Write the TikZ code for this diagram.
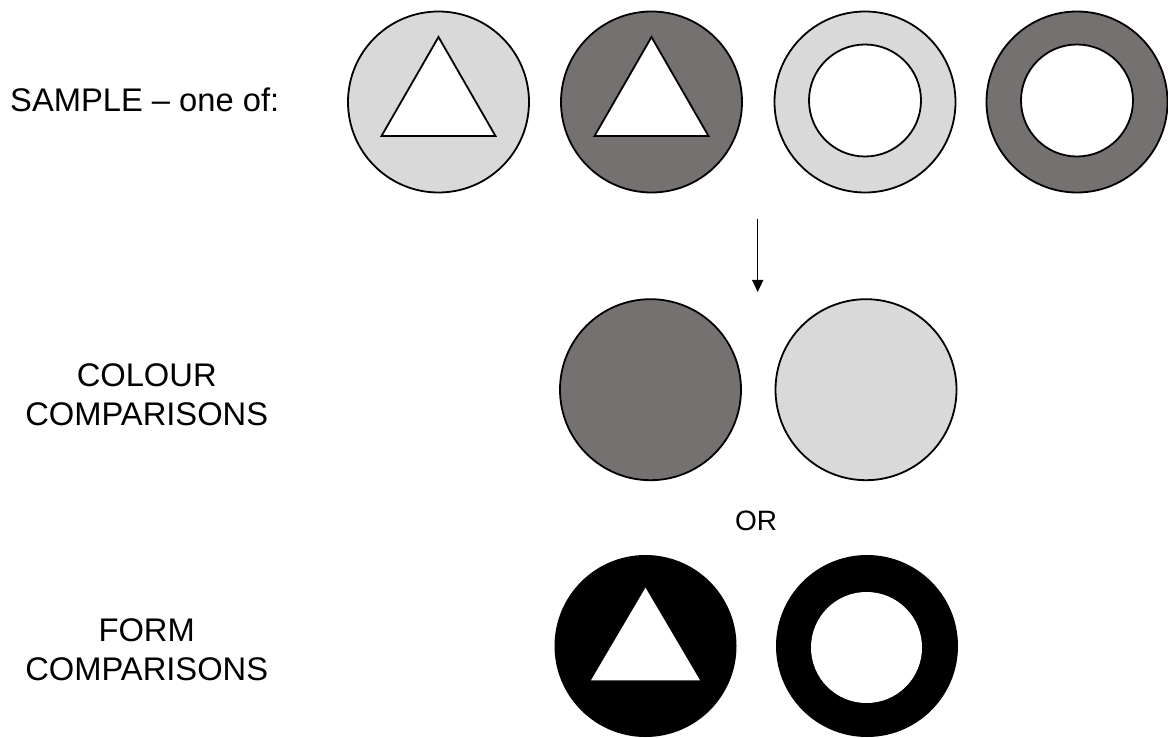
\documentclass[tikz,border=0pt]{standalone}
\usepackage{fontspec}
\setmainfont{Liberation Sans}
\usetikzlibrary{arrows.meta}
\definecolor{lightg}{HTML}{D9D9D9}
\definecolor{darkg}{HTML}{767171}
\begin{document}
\begin{tikzpicture}[x=1pt,y=-1pt,
  disc/.style={circle, draw=black, line width=1.8pt, minimum size=181pt, inner sep=0pt},
  solid disc/.style={circle, fill=black, minimum size=182pt, inner sep=0pt},
  hole/.style={circle, draw=black, fill=white, line width=1.8pt, minimum size=112pt, inner sep=0pt},
  white hole/.style={circle, fill=white, minimum size=111pt, inner sep=0pt},
  lbl/.style={anchor=base, inner sep=0pt, font=\fontsize{32.7}{39}\selectfont},
  tri/.style={draw=black, fill=white, line width=1.8pt, line join=miter},
  arrowline/.style={line width=1.5pt, -{Triangle[length=12pt,width=11pt]}},
  ]
\useasboundingbox (0,0) rectangle (1168,738);

% labels
\node[lbl, anchor=base west] (sample) at (10,112) {SAMPLE -- one of:};
\node[lbl] (colA) at (146.7,386) {COLOUR};
\node[lbl] (colB) at (146.7,425) {COMPARISONS};
\node[lbl] (formA) at (146.7,641) {FORM};
\node[lbl] (formB) at (146.7,680) {COMPARISONS};
\node[anchor=base, inner sep=0pt, font=\fontsize{28}{33}\selectfont] (or) at (756,530) {OR};

% sample row
\node[disc, fill=lightg] (s1) at (438.5,102) {};
\draw[tri] ([shift={(0,-65)}]s1.center) -- ([shift={(-57,34)}]s1.center) -- ([shift={(57,34)}]s1.center) -- cycle;
\node[disc, fill=darkg] (s2) at (651.5,102) {};
\draw[tri] ([shift={(0,-65)}]s2.center) -- ([shift={(-57,34)}]s2.center) -- ([shift={(57,34)}]s2.center) -- cycle;
\node[disc, fill=lightg] (s3) at (865,102) {};
\node[hole] (h3) at (865,100.5) {};
\node[disc, fill=darkg] (s4) at (1077,102) {};
\node[hole] (h4) at (1077,100.5) {};

% arrow
\coordinate (arrS) at (757.7,219);
\coordinate (arrE) at (757.7,292);
\draw[arrowline] (arrS) -- (arrE);

% colour comparisons
\node[disc, fill=darkg] (c1) at (650.5,389.7) {};
\node[disc, fill=lightg] (c2) at (866,389.7) {};

% form comparisons
\node[solid disc] (f1) at (645.5,646) {};
\fill[white] ([shift={(0,-58.3)}]f1.center) -- ([shift={(-54.5,34.3)}]f1.center) -- ([shift={(54.5,34.3)}]f1.center) -- cycle;
\node[solid disc] (f2) at (867,646) {};
\node[white hole] (fh) at (866.5,647.5) {};
\end{tikzpicture}
\end{document}
